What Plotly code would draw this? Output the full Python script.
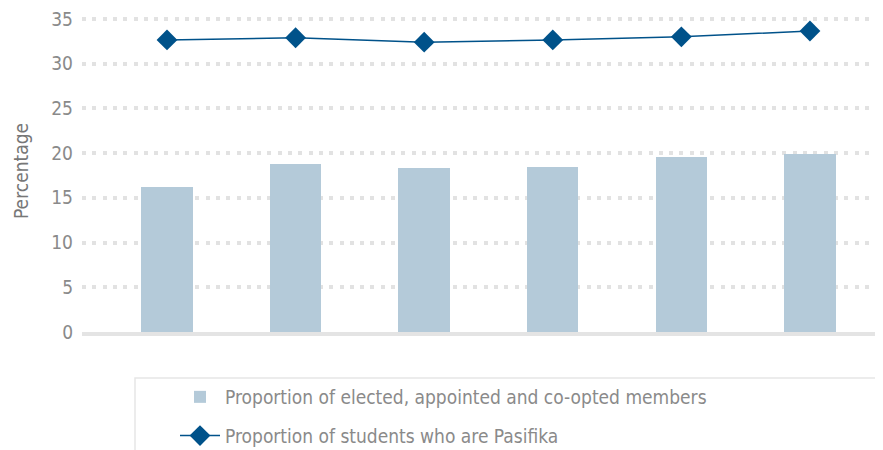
import plotly.graph_objects as go

categories = ["2011", "2012", "2013", "2014", "2015", "2016"]
members = [16.2, 18.8, 18.3, 18.45, 19.6, 19.9]
students = [32.65, 32.9, 32.4, 32.65, 33.0, 33.65]
y_ticks = [0, 5, 10, 15, 20, 25, 30, 35]

FONT = "DejaVu Sans Condensed, Liberation Sans, sans-serif"
GRAY = "#8a8a8a"

# the page body adds an 8px offset; margins compensate for it
OFF = 8
W, H = 883, 450
ML, MR, MT, MB = 82 - OFF, OFF, 10 - OFF, 118 + OFF
pw = W - ML - MR
ph = H - MT - MB


def px_x(sx):
    return (sx - OFF - ML) / pw


def px_y(sy):
    return (MT + ph - (sy - OFF)) / ph


fig = go.Figure()
fig.add_trace(go.Bar(
    x=list(range(len(categories))), y=members,
    name="Proportion of elected, appointed and co-opted members",
    marker=dict(color="#b4cad9", line=dict(width=0)),
    width=0.40, legendgroup="a",
))
fig.add_trace(go.Scatter(
    x=list(range(len(categories))), y=students,
    name="Proportion of students who are Pasifika",
    mode="lines+markers",
    line=dict(color="#00528a", width=1.5),
    marker=dict(symbol="diamond", size=16, color="#00528a"),
    legendgroup="b",
))

fig.add_shape(type="rect", xref="paper", yref="paper",
              x0=px_x(135), x1=px_x(W + 10),
              y0=px_y(378), y1=px_y(H + 10),
              line=dict(color="#e6e6e6", width=1.5), fillcolor="rgba(0,0,0,0)")

fig.update_layout(
    width=W, height=H,
    margin=dict(l=ML, r=MR, t=MT, b=MB, autoexpand=False),
    plot_bgcolor="white", paper_bgcolor="white",
    font=dict(family=FONT, size=19, color=GRAY),
    bargap=0,
    showlegend=True,
    legend=dict(
        x=px_x(175), y=px_y(378),
        xanchor="left", yanchor="top",
        bgcolor="rgba(0,0,0,0)", borderwidth=0,
        traceorder="grouped", tracegroupgap=11,
        font=dict(family=FONT, size=19, color=GRAY),
        itemwidth=40,
    ),
    xaxis=dict(
        range=[-0.661, 5.568],
        showticklabels=False, showgrid=False, zeroline=False,
        showline=True, linecolor="#e4e4e4", linewidth=4,
        ticks="", automargin=False,
    ),
    yaxis=dict(
        range=[0, 36],
        tickvals=y_ticks,
        ticktext=[str(v) for v in y_ticks],
        showgrid=True, gridcolor="#e2e2e2", gridwidth=4,
        griddash="4px,6.3px",
        zeroline=False, showline=False, ticks="",
        ticklabelstandoff=8, automargin=False,
        ticklabeloverflow="allow",
        title=dict(text="Percentage", standoff=17,
                   font=dict(family=FONT, size=19, color="#777777")),
        tickfont=dict(family=FONT, size=19, color=GRAY),
    ),
)

fig.write_html("out.html")
